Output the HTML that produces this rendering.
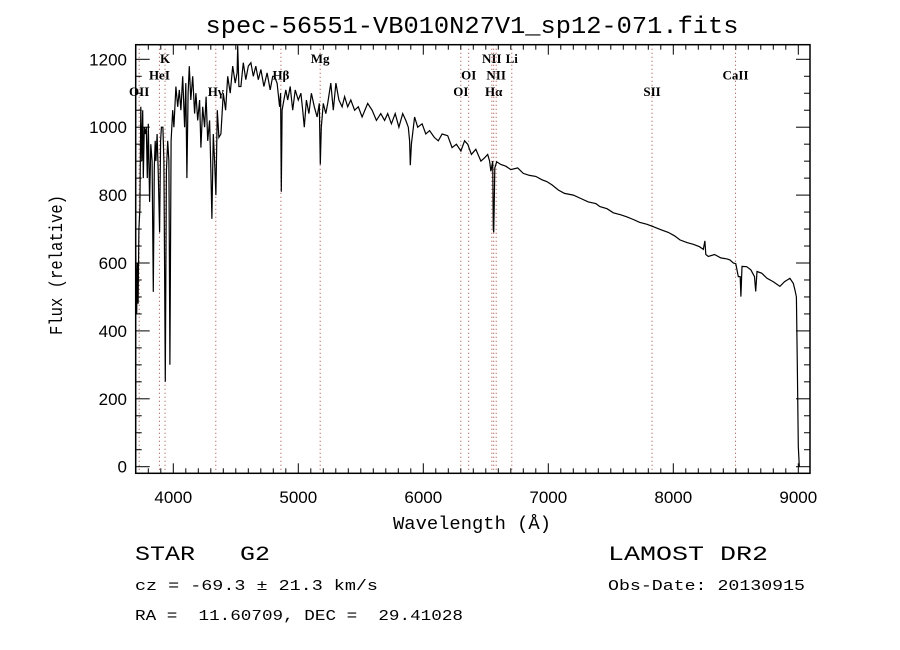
<!DOCTYPE html>
<html><head><meta charset="utf-8"><style>
html,body{margin:0;padding:0;background:#fff;}
svg{display:block;}
</style></head><body>
<svg id="chart" width="900" height="650" viewBox="0 0 900 650" xmlns="http://www.w3.org/2000/svg">
<rect x="0" y="0" width="900" height="650" fill="#fff"/>
<text x="472" y="33" text-anchor="middle" font-family="Liberation Mono, monospace" font-size="24" textLength="533" lengthAdjust="spacingAndGlyphs">spec-56551-VB010N27V1_sp12-071.fits</text>
<g id="lines"></g>
<g id="spec"></g>
<g id="axes"></g>
<text x="472" y="529" text-anchor="middle" font-family="Liberation Mono, monospace" font-size="18" textLength="158" lengthAdjust="spacingAndGlyphs">Wavelength (Å)</text>
<text transform="translate(62,265) rotate(-90)" text-anchor="middle" font-family="Liberation Mono, monospace" font-size="18" textLength="140" lengthAdjust="spacingAndGlyphs">Flux (relative)</text>
<text x="135" y="560" font-family="Liberation Mono, monospace" font-size="20" textLength="135" lengthAdjust="spacingAndGlyphs" xml:space="preserve">STAR   G2</text>
<text x="608" y="560" font-family="Liberation Mono, monospace" font-size="20" textLength="160" lengthAdjust="spacingAndGlyphs">LAMOST DR2</text>
<text x="135" y="590" font-family="Liberation Mono, monospace" font-size="15" textLength="243" lengthAdjust="spacingAndGlyphs">cz = -69.3 ± 21.3 km/s</text>
<text x="608" y="590" font-family="Liberation Mono, monospace" font-size="15" textLength="197" lengthAdjust="spacingAndGlyphs">Obs-Date: 20130915</text>
<text x="135" y="620" font-family="Liberation Mono, monospace" font-size="15" textLength="328" lengthAdjust="spacingAndGlyphs" xml:space="preserve">RA =  11.60709, DEC =  29.41028</text>
</svg>
<script>
const wavelengths = [
3700,3707,3712,3718,3725,3733,3740,3748,3755,3760,
3768,3775,3784,3792,3800,3810,3820,3830,3840,3848,
3855,3861,3870,3880,3890,3898,3905,3917,3925,3936,
3945,3955,3965,3973,3982,3995,4005,4021,4035,4048,
4061,4075,4090,4100,4109,4118,4128,4140,4155,4170,
4181,4195,4210,4221,4235,4250,4262,4275,4290,4300,
4309,4320,4330,4341,4352,4365,4381,4400,4418,4435,
4455,4475,4495,4510,4515,4525,4541,4560,4580,4600,
4621,4640,4660,4680,4701,4725,4750,4775,4795,4808,
4830,4850,4858,4864,4870,4885,4900,4915,4935,4955,
4975,5000,5021,5035,5048,5065,5085,5105,5128,5150,
5168,5176,5184,5200,5220,5235,5260,5280,5301,5325,
5350,5370,5395,5420,5450,5480,5510,5555,5590,5625,
5660,5690,5715,5745,5775,5805,5835,5860,5880,5890,
5896,5905,5930,5955,5990,6020,6050,6088,6120,6150,
6195,6230,6265,6301,6330,6355,6385,6420,6461,6490,
6515,6530,6541,6555,6560,6563,6566,6572,6587,6620,
6660,6700,6755,6800,6850,6900,6950,6987,7030,7080,
7130,7200,7260,7320,7380,7413,7470,7520,7580,7627,
7680,7730,7790,7840,7900,7960,8010,8053,8110,8160,
8210,8240,8253,8260,8280,8330,8380,8430,8453,8480,
8500,8520,8535,8541,8550,8587,8620,8650,8659,8670,
8707,8750,8800,8853,8890,8933,8960,8973,8985,8992,
9000,9008];
const fluxes = [
620,450,600,480,700,760,1060,900,1050,850,
1000,980,1000,850,1010,780,950,900,515,880,
960,900,980,860,690,960,1000,1000,900,250,
870,960,900,300,960,1050,1000,1120,1060,1110,
1050,1150,1000,1130,850,1100,1180,1080,1150,1040,
1100,1020,1080,940,1060,1000,1090,960,1020,880,
730,980,900,800,1050,970,980,1100,1050,1150,
1100,1180,1130,1160,1240,1120,1120,1190,1140,1180,
1190,1150,1180,1140,1170,1120,1160,1110,1150,1150,
1130,1060,1100,810,1050,1080,1110,1080,1120,1050,
1110,1080,1100,1050,1000,1080,1040,1100,1060,1030,
1070,890,1000,1070,1040,1070,1130,1050,1130,1080,
1060,1090,1060,1080,1050,1060,1030,1070,1050,1020,
1040,1020,1040,1010,1040,1000,1040,1020,1000,960,
888,950,1030,1000,1010,980,990,970,960,980,
975,940,950,930,960,950,920,935,900,910,
920,900,870,900,700,690,750,880,898,890,
885,875,880,864,858,855,845,840,830,815,
805,800,790,780,775,766,760,748,742,736,
728,720,714,707,698,690,680,668,660,655,
648,640,665,625,619,625,615,612,609,600,
598,560,560,501,590,589,580,560,516,575,
570,555,545,531,545,555,540,521,500,303,
60,0];
const lineWaves = [3727,3889,3934,4340,4861,5175,6300,6363,6548,6563,6583,6708,7830,8498];
const lineLabels = ["OII","HeI","K","Hγ","Hβ","Mg","OI","OI","NII","Hα","NII","Li","SII","CaII"];
const lineLabelRows = [2,1,0,2,1,0,2,1,0,2,1,0,2,1];
const xTicks = [4000,5000,6000,7000,8000,9000];
const yTicks = [0,200,400,600,800,1000,1200];

const L=135.7,R=810,T=44.7,B=473.3;
const xs = w => 173.3 + (w-4000)*0.125;
const ys = f => 466.7 - f*0.3395;
const NS="http://www.w3.org/2000/svg";
function mk(tag, attrs, parent){const e=document.createElementNS(NS,tag);for(const k in attrs)e.setAttribute(k,attrs[k]);parent.appendChild(e);return e;}
const gl=document.getElementById('lines'), gs=document.getElementById('spec'), ga=document.getElementById('axes');

lineWaves.forEach((w,i)=>{
  const x=xs(w);
  const ln=mk('line',{x1:x,y1:T,x2:x,y2:B,stroke:'#a0443a','stroke-width':1,'stroke-dasharray':'1,3'},gl);
  
  
  const t=mk('text',{x:x,y:63+lineLabelRows[i]*16.5,'text-anchor':'middle','font-family':'Liberation Serif, serif','font-size':13,'font-weight':'bold',fill:'#000'},gl);
  t.textContent=lineLabels[i];
  
  
});

let d='';
const n=Math.min(wavelengths.length,fluxes.length);
for(let i=0;i<n;i++){d+=(i?'L':'M')+xs(wavelengths[i]).toFixed(1)+','+Math.max(T,ys(fluxes[i])).toFixed(1);}
const p=mk('path',{d:d,fill:'none',stroke:'#000','stroke-width':1.2},gs);



const fr=mk('rect',{x:L,y:T,width:R-L,height:B-T,fill:'none',stroke:'#000','stroke-width':1.5},ga);


for(let w=3700;w<=9000;w+=100){
  const x=xs(w), major=w%1000===0, len=major?10:5;
  mk('line',{x1:x,y1:B,x2:x,y2:B-len,stroke:'#000'},ga);
  mk('line',{x1:x,y1:T,x2:x,y2:T+len,stroke:'#000'},ga);
}
for(let f=0;f<=1200;f+=50){
  const y=ys(f), major=f%200===0, len=major?14:6;
  mk('line',{x1:L,y1:y,x2:L+len,y2:y,stroke:'#000'},ga);
  mk('line',{x1:R,y1:y,x2:R-len,y2:y,stroke:'#000'},ga);
}
xTicks.forEach(w=>{
  const t=mk('text',{x:xs(w),y:503,'text-anchor':'middle','font-family':'Liberation Sans, sans-serif','font-size':17,fill:'#000'},ga);
  t.textContent=w;
  
  
});
yTicks.forEach(f=>{
  const t=mk('text',{x:127,y:ys(f)+6,'text-anchor':'end','font-family':'Liberation Sans, sans-serif','font-size':17,fill:'#000'},ga);
  t.textContent=f;
  
  
});
</script>
</body></html>
